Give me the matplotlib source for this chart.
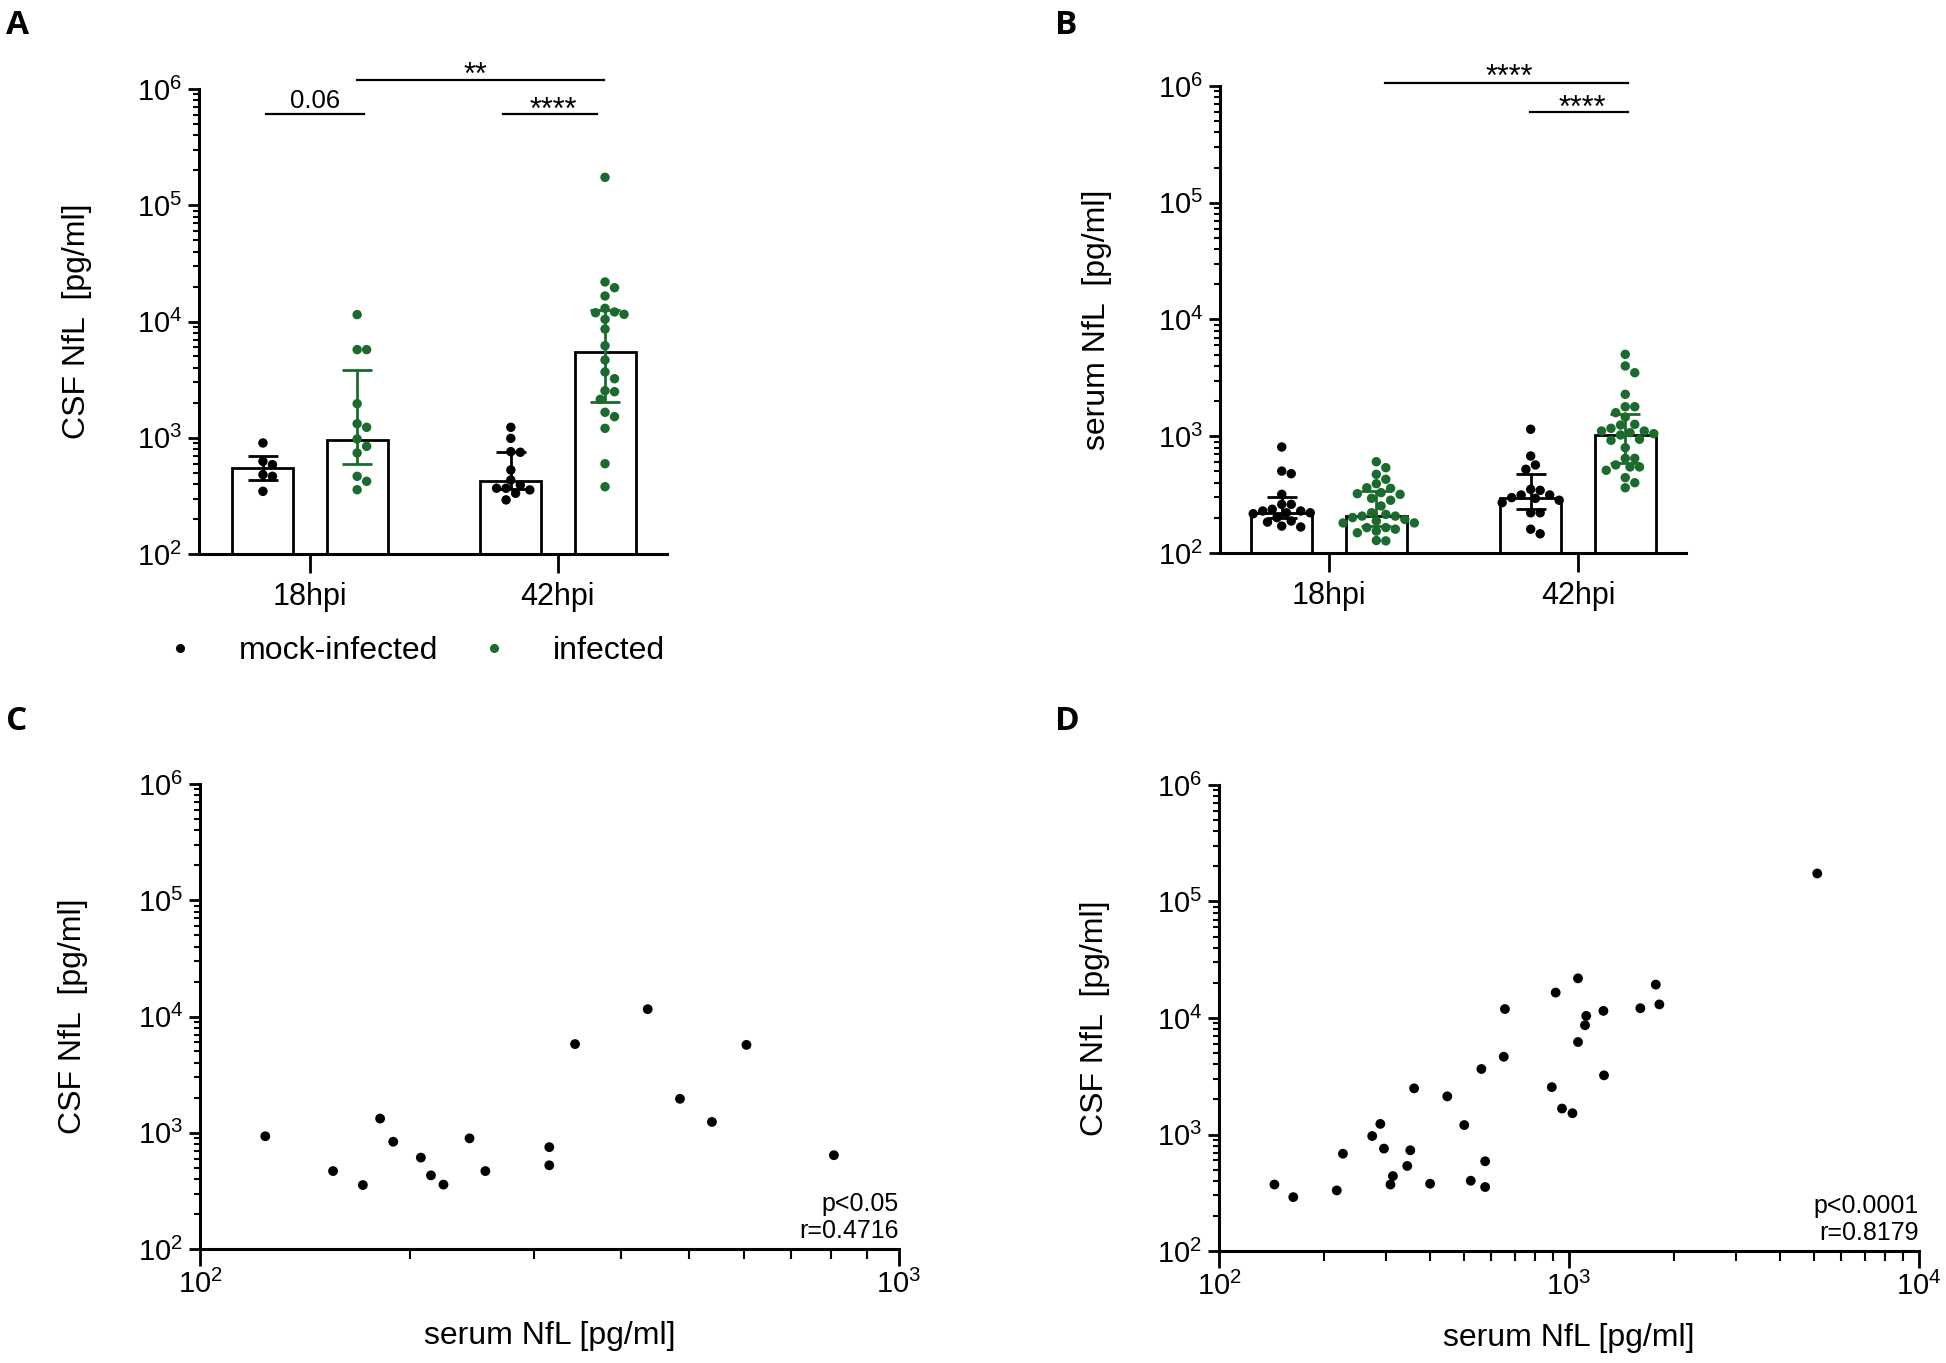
import numpy as np
import matplotlib
matplotlib.use("Agg")
import matplotlib.pyplot as plt
from matplotlib.lines import Line2D
from matplotlib.ticker import LogLocator, LogFormatterMathtext, NullFormatter, FixedLocator

plt.rcParams["font.family"] = ["Liberation Sans", "DejaVu Sans"]

GREEN = "#1b6a2e"
BLACK = "#000000"

groups = ["18hpi", "42hpi"]

# ---- panel A: CSF NfL (pg/ml) per animal
csf_mock_18 = [902, 627, 587, 482, 466, 346]
csf_inf_18 = [11460, 5730, 5730, 1964, 1321, 1230, 975, 844, 740, 466, 422, 357]
csf_mock_42 = [1230, 988, 759, 750, 528, 433, 392, 368, 368, 356, 333, 292]
csf_inf_42 = [173800, 21880, 19540, 16570, 12980, 12080, 11900, 11530, 10440, 8610,
              6190, 4670, 3680, 3220, 2540, 2490, 2140, 1656, 1518, 1205, 598, 379]
csf_mock_med = [550, 427]
csf_mock_q1 = [436, 360]
csf_mock_q3 = [702, 750]
csf_inf_med = [962, 5430]
csf_inf_q1 = [599, 2020]
csf_inf_q3 = [3850, 12480]

# ---- panel B: serum NfL (pg/ml) per animal
serum_mock_18 = [809, 503, 478, 318, 261, 261, 237, 229, 229, 221, 221, 217, 201, 188,
                 184, 170, 167]
serum_inf_18 = [605, 538, 472, 428, 392, 362, 358, 329, 322, 318, 294, 283, 253, 221,
                214, 207, 207, 201, 194, 188, 181, 181, 165, 165, 160, 154, 149, 128, 127]
serum_mock_42 = [1148, 677, 568, 521, 351, 344, 314, 314, 298, 294, 283, 270, 221, 221,
                 160, 146]
serum_inf_42 = [5030, 4000, 3500, 2285, 1790, 1790, 1592, 1462, 1265, 1247, 1170, 1109,
                1109, 1074, 1052, 1025, 942, 923, 798, 647, 647, 568, 546, 546, 511,
                442, 400, 362]
serum_mock_med = [220, 296]
serum_mock_q1 = [199, 237]
serum_mock_q3 = [302, 477]
serum_inf_med = [207, 1019]
serum_inf_q1 = [170, 593]
serum_inf_q3 = [340, 1560]

# ---- panel C: 18hpi correlation
c_serum = [124, 155, 171, 181, 189, 207, 214, 223, 243, 256, 316, 316, 344, 437, 486,
           540, 605, 807]
c_csf = [933, 468, 355, 1324, 837, 611, 430, 358, 895, 468, 752, 525, 5790, 11560,
         1959, 1239, 5700, 641]

# ---- panel D: 42hpi correlation
d_serum = [5120, 1061, 1770, 916, 656, 1599, 1812, 1254, 1120, 1111, 1061, 651, 562,
           1259, 893, 361, 449, 955, 1023, 289, 502, 274, 296, 352, 226, 576, 345, 314,
           144, 309, 401, 524, 576, 163, 217]
d_csf = [174000, 21900, 19350, 16530, 11940, 12130, 13080, 11510, 10420, 8670, 6220,
         4650, 3650, 3220, 2550, 2490, 2125, 1670, 1523, 1233, 1205, 970, 757, 732, 684,
         589, 537, 440, 372, 372, 378, 401, 354, 290, 331]

W, H = 1946, 1363
fig = plt.figure(figsize=(W / 100, H / 100), dpi=100)


def px_axes(x0, y0, x1, y1):
    return fig.add_axes([x0 / W, 1 - y1 / H, (x1 - x0) / W, (y1 - y0) / H])


def style_log_y(ax):
    ax.set_yscale("log")
    ax.set_ylim(1e2, 1e6)
    ax.yaxis.set_major_locator(FixedLocator([1e2, 1e3, 1e4, 1e5, 1e6]))
    ax.yaxis.set_major_formatter(LogFormatterMathtext())
    ax.yaxis.set_minor_locator(LogLocator(base=10, subs=np.arange(2, 10), numticks=20))
    ax.yaxis.set_minor_formatter(NullFormatter())
    ax.tick_params(axis="y", which="major", length=8, width=2, labelsize=21, pad=4)
    ax.tick_params(axis="y", which="minor", length=4, width=1.5)
    for s in ["top", "right"]:
        ax.spines[s].set_visible(False)
    for s in ["left", "bottom"]:
        ax.spines[s].set_linewidth(2.2)


def swarm_x(ax, xc, vals, diam):
    vals = np.asarray(vals, float)
    disp = ax.transData.transform(np.column_stack([np.full(len(vals), xc), vals]))
    x0 = disp[0, 0]
    ys = disp[:, 1]
    step = diam / 2
    placed = []
    dxs = np.zeros(len(vals))
    for i in np.argsort(-vals):
        for k in range(60):
            dx = ((k + 1) // 2) * step * (1 if k % 2 else -1)
            if all((dx - px) ** 2 + (ys[i] - py) ** 2 >= (diam * 0.97) ** 2
                   for px, py in placed):
                break
        placed.append((dx, ys[i]))
        dxs[i] = dx
    return ax.transData.inverted().transform(np.column_stack([x0 + dxs, ys]))[:, 0]


def bar_panel(ax, xlim, series, ylabel, ylab_x):
    style_log_y(ax)
    ax.set_xlim(*xlim)
    off, width = 0.19, 0.246
    for gi in range(2):
        for (pts, med, q1, q3, col, sgn) in series[gi]:
            xc = gi + sgn * off
            ax.bar(xc, med - 1e2, bottom=1e2, width=width, facecolor="white",
                   edgecolor="black", linewidth=2, zorder=1)
            xs = swarm_x(ax, xc, pts, 9.5)
            ax.scatter(xs, pts, s=46, color=col, edgecolors="none", zorder=3,
                       clip_on=False)
            ax.errorbar(xc, med, yerr=[[med - q1], [q3 - med]], fmt="none",
                        ecolor=col, elinewidth=2, capsize=11, capthick=2, zorder=4)
    ax.set_xticks([0, 1])
    ax.set_xticklabels(groups)
    ax.tick_params(axis="x", which="major", length=14, width=2, labelsize=22, pad=6)
    ax.set_ylabel(ylabel, fontsize=23)
    ax.yaxis.set_label_coords(ylab_x, 0.5)


def sig(ax, x1, x2, yline, text, xt, ybase, size):
    ax.plot([x1, x2], [10 ** yline] * 2, color="black", lw=1.6, clip_on=False)
    ax.text(xt, 10 ** ybase, text, ha="center", va="baseline", fontsize=size)


# ---- panel A
axA = px_axes(199, 89, 667, 554)
bar_panel(axA, (-0.448, 1.44),
          [[(csf_mock_18, csf_mock_med[0], csf_mock_q1[0], csf_mock_q3[0], BLACK, -1),
            (csf_inf_18, csf_inf_med[0], csf_inf_q1[0], csf_inf_q3[0], GREEN, 1)],
           [(csf_mock_42, csf_mock_med[1], csf_mock_q1[1], csf_mock_q3[1], BLACK, -1),
            (csf_inf_42, csf_inf_med[1], csf_inf_q1[1], csf_inf_q3[1], GREEN, 1)]],
          "CSF NfL  [pg/ml]", -0.229)
sig(axA, -0.177, 0.218, 5.785, "0.06", 0.02, 5.837, 18.5)
sig(axA, 0.19, 1.185, 6.077, "**", 0.667, 6.043, 22)
sig(axA, 0.78, 1.157, 5.785, "****", 0.98, 5.742, 22)

# ---- panel B
axB = px_axes(1220, 86, 1686, 553)
bar_panel(axB, (-0.438, 1.434),
          [[(serum_mock_18, serum_mock_med[0], serum_mock_q1[0], serum_mock_q3[0], BLACK, -1),
            (serum_inf_18, serum_inf_med[0], serum_inf_q1[0], serum_inf_q3[0], GREEN, 1)],
           [(serum_mock_42, serum_mock_med[1], serum_mock_q1[1], serum_mock_q3[1], BLACK, -1),
            (serum_inf_42, serum_inf_med[1], serum_inf_q1[1], serum_inf_q3[1], GREEN, 1)]],
          "serum NfL  [pg/ml]", -0.232)
sig(axB, 0.225, 1.20, 6.028, "****", 0.723, 6.0, 22)
sig(axB, 0.807, 1.20, 5.780, "****", 1.016, 5.734, 22)

# legend under panel A
handles = [Line2D([], [], ls="none", marker="o", ms=5.5, color=BLACK),
           Line2D([], [], ls="none", marker="o", ms=5.5, color=GREEN)]
fig.legend(handles, ["mock-infected", "infected"], loc="center left",
           bbox_to_anchor=(170 / W, 1 - 651 / H), ncol=2, frameon=False, fontsize=23,
           handlelength=0.6, handletextpad=1.55, columnspacing=1.45, borderpad=0,
           borderaxespad=0)


def scatter_panel(ax, xs, ys, xmax, ptxt, rtxt, ylab_x):
    style_log_y(ax)
    ax.set_xscale("log")
    ax.set_xlim(1e2, xmax)
    ax.xaxis.set_major_formatter(LogFormatterMathtext())
    ax.xaxis.set_minor_locator(LogLocator(base=10, subs=np.arange(2, 10), numticks=20))
    ax.xaxis.set_minor_formatter(NullFormatter())
    ax.tick_params(axis="x", which="major", length=12, width=2, labelsize=21, pad=3)
    ax.tick_params(axis="x", which="minor", length=7, width=1.5)
    ax.scatter(xs, ys, s=50, color="black", edgecolors="none", zorder=3)
    ax.set_ylabel("CSF NfL  [pg/ml]", fontsize=23)
    ax.yaxis.set_label_coords(ylab_x, 0.5)
    ax.set_xlabel("serum NfL [pg/ml]", fontsize=23)
    ax.xaxis.set_label_coords(0.5, -0.155)
    ax.text(1.0, 0.012, ptxt + "\n" + rtxt, transform=ax.transAxes, ha="right",
            va="bottom", fontsize=18, linespacing=1.2)


axC = px_axes(200, 784, 899, 1249)
scatter_panel(axC, c_serum, c_csf, 1e3, "p<0.05", "r=0.4716", -0.160)
axD = px_axes(1219, 785, 1919, 1251)
scatter_panel(axD, d_serum, d_csf, 1e4, "p<0.0001", "r=0.8179", -0.156)

for lbl, x, y in [("A", 6, 9), ("B", 1055, 9), ("C", 6, 705), ("D", 1055, 705)]:
    fig.text(x / W, 1 - y / H, lbl, fontsize=24, fontweight="bold",
             family=["Open Sans", "DejaVu Sans"], ha="left", va="top")

fig.savefig("out.png", dpi=100)
